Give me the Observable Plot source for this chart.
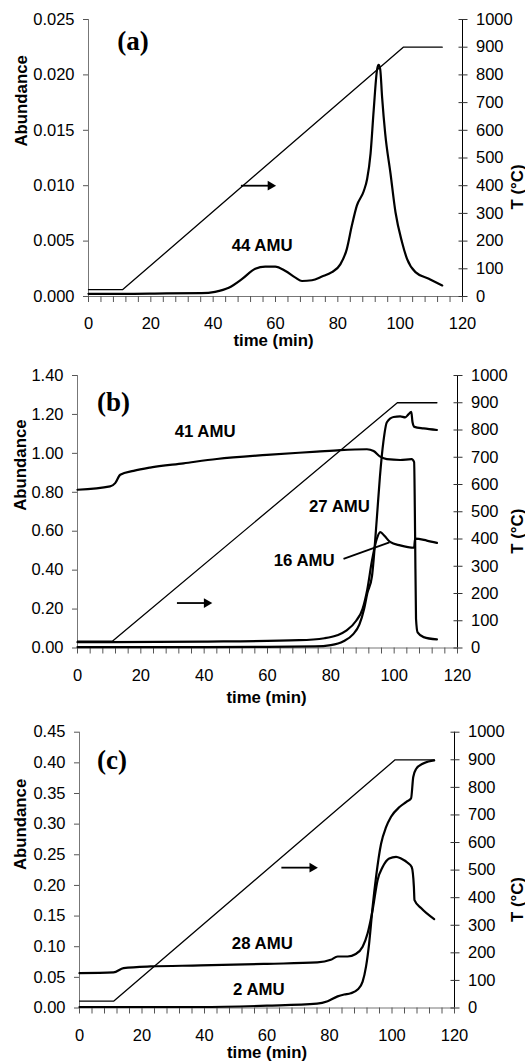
<!DOCTYPE html>
<html><head><meta charset="utf-8">
<script src="https://cdn.jsdelivr.net/npm/d3@7"></script>
<script src="https://cdn.jsdelivr.net/npm/@observablehq/plot@0.6"></script>
<style>
body{margin:0;background:#fff;}
#chart svg{display:block;}
</style></head><body><div id="chart"></div>
<script>
// ---- shared ----
const xMajorTicks = [0, 20, 40, 60, 80, 100, 120];
const xMinorTicks = d3.range(0, 121, 4);
const tempTicks = [0, 100, 200, 300, 400, 500, 600, 700, 800, 900, 1000];
const tempTime = [0, 11, 101, 113.5];
const tempC = [25, 25, 900, 900];

// ---- panel (a) ----
const yTicksA = [0, 0.005, 0.010, 0.015, 0.020, 0.025];
const time44 = [0, 11, 25, 36.3, 40.6, 45, 49.2, 53.5, 56.7, 59.9, 63.2, 66.4, 68.5, 71.7, 74.9, 78.1, 80.8, 82.9, 84.5, 86.1, 88.3, 89.4, 90.5, 91.5, 92.6, 93.1, 93.6, 94.2, 95.2, 96.9, 98.5, 100.6, 102.2, 104.9, 109.2, 113.5];
const abund44 = [0.00024, 0.00024, 0.00028, 0.0003, 0.00042, 0.00078, 0.00156, 0.0025, 0.0027, 0.0027, 0.0023, 0.0017, 0.0014, 0.00147, 0.0018, 0.0022, 0.0029, 0.0043, 0.0064, 0.0082, 0.0095, 0.0106, 0.0129, 0.0168, 0.0205, 0.0209, 0.0205, 0.018, 0.0147, 0.0111, 0.0076, 0.0049, 0.0034, 0.0022, 0.0016, 0.0010];

// ---- panel (b) ----
const yTicksB = [0, 0.2, 0.4, 0.6, 0.8, 1.0, 1.2, 1.4];
const time41 = [0, 10.3, 11.9, 13.5, 17.7, 22.9, 33.5, 44, 59.8, 75.6, 83, 91.4, 93.5, 95.6, 97.7, 101.9, 105.5, 106.3, 106.6, 106.9, 107.4, 109.3, 113.5];
const abund41 = [0.813, 0.83, 0.847, 0.89, 0.91, 0.927, 0.949, 0.971, 0.992, 1.009, 1.017, 1.021, 1.012, 0.983, 0.97, 0.966, 0.97, 0.955, 0.6, 0.15, 0.08, 0.056, 0.044];
const time16 = [0, 10, 40, 70, 78, 82, 85, 88, 90, 91.5, 93, 94.5, 95.6, 97, 98.7, 101.9, 106.3, 106.6, 110.3, 113.5];
const abund16 = [0.03, 0.03, 0.033, 0.04, 0.05, 0.065, 0.09, 0.14, 0.2, 0.3, 0.45, 0.56, 0.595, 0.575, 0.545, 0.527, 0.515, 0.562, 0.552, 0.54];
const time27 = [0, 40, 60, 75, 80, 84, 87, 89, 90.5, 91.5, 93, 94.5, 95.5, 96.6, 97.7, 99.8, 101.9, 103.5, 104.5, 105.4, 105.8, 106.4, 109.3, 113.5];
const abund27 = [0.005, 0.005, 0.006, 0.008, 0.015, 0.035, 0.07, 0.12, 0.2, 0.28, 0.37, 0.66, 0.88, 1.06, 1.16, 1.187, 1.19, 1.185, 1.2, 1.213, 1.16, 1.136, 1.128, 1.12];

// ---- panel (c) ----
const yTicksC = [0, 0.05, 0.10, 0.15, 0.20, 0.25, 0.30, 0.35, 0.40, 0.45];
const time28 = [0, 10.9, 14.1, 22.7, 38.7, 60.1, 76.1, 80.4, 82.6, 85.8, 88.4, 90.6, 92.2, 93.8, 95.4, 97, 99.1, 101.3, 102.9, 105, 106.3, 107, 107.2, 109.3, 113.5];
const abund28 = [0.0569, 0.058, 0.065, 0.0678, 0.0694, 0.0721, 0.0743, 0.0786, 0.084, 0.084, 0.088, 0.1, 0.122, 0.16, 0.209, 0.23, 0.244, 0.2467, 0.244, 0.237, 0.23, 0.198, 0.176, 0.163, 0.145];
const time2 = [0, 38.7, 60, 76, 79.4, 82.6, 84.7, 86.8, 89, 90.6, 91.7, 92.7, 93.8, 94.9, 96.5, 98.1, 99.7, 102.4, 104.5, 106.1, 106.8, 107.7, 109.8, 113.5];
const abund2 = [0.0016, 0.0016, 0.0038, 0.007, 0.011, 0.019, 0.022, 0.024, 0.03, 0.043, 0.068, 0.106, 0.165, 0.214, 0.268, 0.295, 0.312, 0.328, 0.336, 0.342, 0.377, 0.39, 0.3985, 0.404];

const zip = (ts, vs) => ts.map((t, i) => ({t, a: vs[i]}));
const blank = () => "";
const LBL = 16.8;

function panel(o) {
  const k = o.ymax / 1000;
  const temp = tempTime.map((t, i) => ({t, a: tempC[i] * k}));
  const tPos = tempTicks.map(v => v * k);
  const marks = [
    Plot.ruleY([0], {stroke: "#777"}),
    Plot.ruleX([0], {stroke: "#777"}),
    Plot.ruleX([120], {stroke: "#000"}),
    // x ticks (minor every 4) and labels (every 20)
    Plot.axisX({ticks: xMinorTicks, tickSize: 6, tickFormat: blank, label: null, stroke: "#555"}),
    Plot.axisX({ticks: xMajorTicks, tickSize: 0, tickPadding: 21, fontSize: 16.5, label: null, color: "#000"}),
    // left axis
    Plot.axisY({ticks: o.yTicks, tickSize: 5, tickFormat: blank, label: null, stroke: "#555"}),
    Plot.axisY({ticks: o.yTicks, tickSize: 0, tickPadding: 14, fontSize: 16.5, label: null, color: "#000", tickFormat: d3.format(o.yFormat)}),
    // right (temperature) axis, ticks crossing the line
    Plot.axisY({anchor: "right", ticks: tPos, tickSize: 4.5, tickFormat: blank, label: null, stroke: "#333"}),
    Plot.axisY({anchor: "right", ticks: tPos, tickSize: 4.5, dx: -4.5, tickFormat: blank, label: null, stroke: "#333"}),
    Plot.axisY({anchor: "right", ticks: tPos, tickSize: 0, tickPadding: 13.5, fontSize: 16.5, label: null, color: "#000", tickFormat: d => String(Math.round(d / k))}),
    Plot.line(temp, {x: "t", y: "a", stroke: "#000", strokeWidth: 1.3}),
    ...o.series.map(s => Plot.line(s, {x: "t", y: "a", stroke: "#000", strokeWidth: 2.2, curve: "monotone-x"})),
    Plot.text(o.labels, {x: "t", y: "a", text: "label", fontWeight: "bold", fontSize: LBL, fill: "#000"}),
    Plot.text([o.letter], {x: "t", y: "a", text: "label", fontFamily: "Liberation Serif, Times New Roman, serif", fontWeight: "bold", fontSize: 27, fill: "#000"}),
    // arrow: shaft + filled head
    Plot.link([o.arrow], {x1: "t1", x2: "t2", y1: "a", y2: "a", stroke: "#000", strokeWidth: 1.8}),
    Plot.dot([o.arrow], {x: "t2", y: "a", symbol: "triangle", r: 3.6, rotate: 90, fill: "#000", stroke: "none"}),
    Plot.text(["Abundance"], {text: d => d, frameAnchor: "left", rotate: -90, dx: o.ab[0], dy: o.ab[1], fontWeight: "bold", fontSize: LBL, fill: "#000"}),
    Plot.text(["T (°C)"], {text: d => d, frameAnchor: "right", rotate: -90, dx: o.tl[0], dy: o.tl[1], fontWeight: "bold", fontSize: LBL, fill: "#000"}),
    Plot.text(["time (min)"], {text: d => d, frameAnchor: "bottom", lineAnchor: "middle", dx: o.xl[0], dy: o.xl[1], fontWeight: "bold", fontSize: LBL, fill: "#000"})
  ];
  if (o.pointer) marks.push(Plot.link([o.pointer], {x1: "t1", y1: "a1", x2: "t2", y2: "a2", stroke: "#000", strokeWidth: 1.8}));
  return Plot.plot({
    width: 525, height: o.height,
    marginTop: o.m[0], marginRight: o.m[1], marginBottom: o.m[2], marginLeft: o.m[3],
    x: {domain: [0, 120], label: null},
    y: {domain: [0, o.ymax], label: null},
    style: {fontFamily: "Liberation Sans, Arial, sans-serif", fontSize: "16px", background: "#fff", color: "#000", overflow: "visible"},
    marks
  });
}

const root = document.getElementById("chart");
root.append(panel({
  height: 352, m: [19, 63, 56, 88], ymax: 0.025, yTicks: yTicksA, yFormat: ".3f",
  series: [zip(time44, abund44)],
  labels: [{t: 55.7, a: 0.00456, label: "44 AMU"}],
  letter: {t: 14.3, a: 0.0230, label: "(a)"},
  arrow: {t1: 48.9, t2: 58.4, a: 0.0100},
  ab: [-67, -11.5], tl: [55, 6.5], xl: [-2, 44]
}));
root.append(panel({
  height: 354, m: [23, 68, 58.5, 77], ymax: 1.4, yTicks: yTicksB, yFormat: ".2f",
  series: [zip(time41, abund41), zip(time16, abund16), zip(time27, abund27)],
  labels: [{t: 40.3, a: 1.114, label: "41 AMU"}, {t: 82.7, a: 0.728, label: "27 AMU"}, {t: 71.6, a: 0.447, label: "16 AMU"}],
  letter: {t: 11.4, a: 1.264, label: "(b)"},
  arrow: {t1: 31.4, t2: 40.8, a: 0.231},
  pointer: {t1: 84, a1: 0.458, t2: 98.5, a2: 0.543},
  ab: [-57, -1], tl: [60, -3], xl: [-1, 49.5]
}));
root.append(panel({
  height: 355, m: [25.7, 71, 53.5, 79], ymax: 0.45, yTicks: yTicksC, yFormat: ".2f",
  series: [zip(time28, abund28), zip(time2, abund2)],
  labels: [{t: 58.5, a: 0.1057, label: "28 AMU"}, {t: 57.4, a: 0.0298, label: "2 AMU"}],
  letter: {t: 10.4, a: 0.404, label: "(c)"},
  arrow: {t1: 64.6, t2: 74.5, a: 0.229},
  ab: [-59, 0], tl: [63, 7], xl: [0, 45]
}));
</script></body></html>
